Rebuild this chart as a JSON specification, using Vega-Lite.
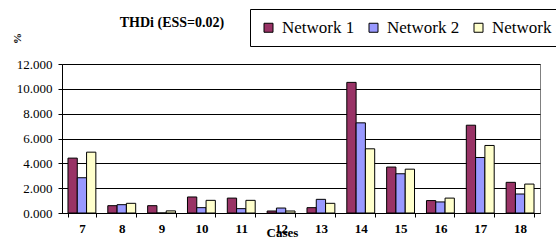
{
  "$schema": "https://vega.github.io/schema/vega-lite/v6.json",
  "width": 478,
  "height": 149,
  "autosize": {"type": "none"},
  "padding": {"left": 62, "top": 64, "right": 16, "bottom": 30},
  "background": "white",
  "config": {
    "font": "Times New Roman, Liberation Serif, serif",
    "view": {"stroke": "#808080"}
  },
  "title": {
    "text": "THDi (ESS=0.02)",
    "font": "Times New Roman, Liberation Serif, serif",
    "fontSize": 14,
    "fontWeight": "bold",
    "anchor": "middle",
    "dx": -129,
    "offset": -32,
    "baseline": "alphabetic",
    "color": "black"
  },
  "data": {
    "values": [
      {"case": "7", "network": "Network 1", "value": 4.42},
      {"case": "7", "network": "Network 2", "value": 2.84},
      {"case": "7", "network": "Network 3", "value": 4.9},
      {"case": "8", "network": "Network 1", "value": 0.59},
      {"case": "8", "network": "Network 2", "value": 0.67},
      {"case": "8", "network": "Network 3", "value": 0.78},
      {"case": "9", "network": "Network 1", "value": 0.59},
      {"case": "9", "network": "Network 2", "value": 0.0},
      {"case": "9", "network": "Network 3", "value": 0.17},
      {"case": "10", "network": "Network 1", "value": 1.29},
      {"case": "10", "network": "Network 2", "value": 0.43},
      {"case": "10", "network": "Network 3", "value": 1.02},
      {"case": "11", "network": "Network 1", "value": 1.2},
      {"case": "11", "network": "Network 2", "value": 0.35},
      {"case": "11", "network": "Network 3", "value": 1.02},
      {"case": "12", "network": "Network 1", "value": 0.16},
      {"case": "12", "network": "Network 2", "value": 0.4},
      {"case": "12", "network": "Network 3", "value": 0.16},
      {"case": "13", "network": "Network 1", "value": 0.43},
      {"case": "13", "network": "Network 2", "value": 1.1},
      {"case": "13", "network": "Network 3", "value": 0.78},
      {"case": "14", "network": "Network 1", "value": 10.52},
      {"case": "14", "network": "Network 2", "value": 7.26},
      {"case": "14", "network": "Network 3", "value": 5.17},
      {"case": "15", "network": "Network 1", "value": 3.7},
      {"case": "15", "network": "Network 2", "value": 3.16},
      {"case": "15", "network": "Network 3", "value": 3.53},
      {"case": "16", "network": "Network 1", "value": 1.0},
      {"case": "16", "network": "Network 2", "value": 0.89},
      {"case": "16", "network": "Network 3", "value": 1.2},
      {"case": "17", "network": "Network 1", "value": 7.07},
      {"case": "17", "network": "Network 2", "value": 4.47},
      {"case": "17", "network": "Network 3", "value": 5.44},
      {"case": "18", "network": "Network 1", "value": 2.47},
      {"case": "18", "network": "Network 2", "value": 1.53},
      {"case": "18", "network": "Network 3", "value": 2.33}
    ]
  },
  "mark": {"type": "bar", "stroke": "black", "strokeWidth": 1},
  "encoding": {
    "x": {
      "field": "case",
      "type": "ordinal",
      "sort": ["7","8","9","10","11","12","13","14","15","16","17","18"],
      "scale": {"paddingInner": 0.3, "paddingOuter": 0.15},
      "axis": {
        "title": "Cases",
        "titleFont": "Times New Roman, Liberation Serif, serif",
        "titleFontSize": 13,
        "titleFontWeight": "bold",
        "titleColor": "black",
        "titleX": 220,
        "titleY": 23,
        "titleBaseline": "alphabetic",
        "labelAngle": 0,
        "labelFont": "Times New Roman, Liberation Serif, serif",
        "labelFontSize": 13,
        "labelFontWeight": "bold",
        "labelColor": "black",
        "labelPadding": 5,
        "tickBand": "extent",
        "tickSize": 4,
        "tickColor": "black",
        "domainColor": "black",
        "grid": false
      }
    },
    "xOffset": {"field": "network", "type": "nominal"},
    "y": {
      "field": "value",
      "type": "quantitative",
      "scale": {"domain": [0, 12], "nice": false},
      "axis": {
        "title": "%",
        "titleFont": "Times New Roman, Liberation Serif, serif",
        "titleFontSize": 11,
        "titleFontWeight": "bold",
        "titleColor": "black",
        "titleAngle": -90,
        "titleX": -45,
        "titleY": -26,
        "titleAlign": "center",
        "titleBaseline": "middle",
        "values": [0, 2, 4, 6, 8, 10, 12],
        "format": ".3f",
        "labelFont": "Times New Roman, Liberation Serif, serif",
        "labelFontSize": 13,
        "labelColor": "black",
        "labelPadding": 6,
        "tickSize": 4,
        "tickColor": "black",
        "domainColor": "black",
        "grid": true,
        "gridColor": "black",
        "gridWidth": 1
      }
    },
    "fill": {
      "field": "network",
      "type": "nominal",
      "scale": {"domain": ["Network 1", "Network 2", "Network 3"], "range": ["#993366", "#9999FF", "#FFFFCC"]},
      "legend": {
        "title": null,
        "orient": "none",
        "direction": "horizontal",
        "legendX": 188,
        "legendY": -55,
        "symbolType": "square",
        "symbolSize": 81,
        "symbolStrokeColor": "black",
        "symbolStrokeWidth": 1,
        "labelFont": "Times New Roman, Liberation Serif, serif",
        "labelFontSize": 17,
        "labelColor": "black",
        "labelOffset": 5,
        "columnPadding": 10,
        "padding": 10,
        "strokeColor": "black",
        "fillColor": "white"
      }
    }
  }
}
